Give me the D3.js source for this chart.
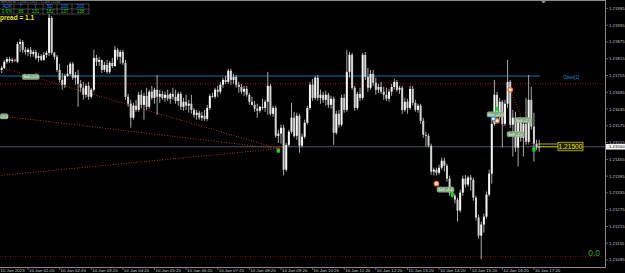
<!DOCTYPE html>
<html>
<head>
<meta charset="utf-8">
<script src="https://cdn.jsdelivr.net/npm/d3@7/dist/d3.min.js"></script>
<style>
html, body { margin: 0; padding: 0; background: #000; }
svg { display: block; }
text { font-family: "Liberation Sans", Arial, sans-serif; }
</style>
</head>
<body>
<svg id="chart" width="625" height="273"></svg>
<script>
// GBPUSD M5, 10 Jan 2023, first bar at 00:30
var firstBar = '00:30';
var ohlc = [
	[1.21775,1.21789,1.21764,1.21782],[1.21782,1.21811,1.21779,1.21804],[1.21804,1.21822,1.21797,1.21814],[1.21814,1.21822,1.21800,1.21807],
	[1.21807,1.21818,1.21800,1.21811],[1.21811,1.21814,1.21804,1.21807],[1.21804,1.21875,1.21800,1.21868],[1.21868,1.21886,1.21839,1.21875],
	[1.21875,1.21882,1.21836,1.21847],[1.21847,1.21857,1.21829,1.21839],[1.21839,1.21854,1.21825,1.21847],[1.21847,1.21857,1.21822,1.21832],
	[1.21832,1.21847,1.21822,1.21839],[1.21839,1.21847,1.21811,1.21818],[1.21818,1.21836,1.21804,1.21825],[1.21825,1.21832,1.21807,1.21811],
	[1.21811,1.21839,1.21807,1.21829],[1.21829,1.21843,1.21818,1.21836],[1.21836,1.21979,1.21825,1.21961],[1.21961,1.21968,1.21829,1.21836],
	[1.21836,1.21839,1.21811,1.21822],[1.21822,1.21829,1.21768,1.21775],[1.21775,1.21797,1.21729,1.21739],[1.21739,1.21764,1.21704,1.21722],
	[1.21722,1.21761,1.21711,1.21754],[1.21754,1.21793,1.21750,1.21761],[1.21761,1.21804,1.21754,1.21797],[1.21797,1.21804,1.21739,1.21747],
	[1.21747,1.21768,1.21722,1.21757],[1.21757,1.21775,1.21643,1.21725],[1.21725,1.21739,1.21697,1.21711],[1.21711,1.21732,1.21668,1.21686],
	[1.21686,1.21725,1.21675,1.21718],[1.21718,1.21732,1.21668,1.21679],[1.21679,1.21711,1.21672,1.21704],[1.21704,1.21847,1.21697,1.21818],
	[1.21818,1.21829,1.21789,1.21804],[1.21804,1.21822,1.21789,1.21811],[1.21811,1.21811,1.21764,1.21775],[1.21775,1.21804,1.21768,1.21793],
	[1.21793,1.21811,1.21761,1.21768],[1.21768,1.21807,1.21761,1.21800],[1.21800,1.21818,1.21782,1.21789],[1.21789,1.21861,1.21786,1.21847],
	[1.21847,1.21854,1.21811,1.21822],[1.21822,1.21847,1.21797,1.21839],[1.21839,1.21847,1.21793,1.21800],[1.21800,1.21811,1.21668,1.21679],
	[1.21679,1.21689,1.21643,1.21654],[1.21654,1.21668,1.21568,1.21604],[1.21604,1.21657,1.21597,1.21647],[1.21647,1.21668,1.21625,1.21632],
	[1.21632,1.21697,1.21625,1.21686],[1.21686,1.21704,1.21639,1.21650],[1.21650,1.21693,1.21597,1.21682],[1.21682,1.21711,1.21632,1.21643],
	[1.21643,1.21704,1.21636,1.21697],[1.21697,1.21718,1.21668,1.21675],[1.21675,1.21711,1.21654,1.21704],[1.21704,1.21757,1.21614,1.21679],
	[1.21679,1.21704,1.21657,1.21689],[1.21689,1.21700,1.21668,1.21675],[1.21675,1.21697,1.21661,1.21686],[1.21686,1.21704,1.21664,1.21672],
	[1.21672,1.21693,1.21654,1.21689],[1.21689,1.21711,1.21668,1.21679],[1.21679,1.21704,1.21654,1.21664],[1.21664,1.21697,1.21647,1.21689],
	[1.21689,1.21697,1.21632,1.21643],[1.21643,1.21675,1.21629,1.21661],[1.21661,1.21686,1.21632,1.21647],[1.21647,1.21668,1.21622,1.21654],
	[1.21654,1.21686,1.21618,1.21632],[1.21632,1.21639,1.21604,1.21614],[1.21614,1.21632,1.21597,1.21622],[1.21622,1.21629,1.21597,1.21604],
	[1.21604,1.21625,1.21593,1.21611],[1.21611,1.21632,1.21593,1.21600],[1.21600,1.21650,1.21593,1.21639],[1.21639,1.21689,1.21632,1.21682],
	[1.21682,1.21693,1.21675,1.21679],[1.21679,1.21711,1.21672,1.21704],[1.21704,1.21718,1.21679,1.21697],[1.21697,1.21732,1.21689,1.21722],
	[1.21722,1.21747,1.21711,1.21739],[1.21739,1.21754,1.21725,1.21732],[1.21732,1.21779,1.21725,1.21772],[1.21772,1.21779,1.21722,1.21739],
	[1.21739,1.21761,1.21725,1.21750],[1.21750,1.21757,1.21711,1.21722],[1.21722,1.21732,1.21693,1.21714],[1.21714,1.21725,1.21689,1.21697],
	[1.21697,1.21718,1.21682,1.21707],[1.21707,1.21718,1.21679,1.21686],[1.21686,1.21693,1.21650,1.21661],[1.21661,1.21679,1.21647,1.21650],
	[1.21650,1.21664,1.21625,1.21636],[1.21636,1.21654,1.21604,1.21629],[1.21629,1.21647,1.21622,1.21643],[1.21643,1.21672,1.21632,1.21639],
	[1.21639,1.21668,1.21625,1.21661],[1.21661,1.21768,1.21614,1.21718],[1.21718,1.21725,1.21611,1.21618],[1.21618,1.21647,1.21607,1.21639],
	[1.21639,1.21647,1.21532,1.21539],[1.21539,1.21561,1.21514,1.21547],[1.21547,1.21579,1.21511,1.21568],[1.21568,1.21579,1.21397,1.21418],
	[1.21418,1.21514,1.21411,1.21507],[1.21507,1.21561,1.21500,1.21554],[1.21554,1.21657,1.21547,1.21604],[1.21604,1.21625,1.21532,1.21539],
	[1.21539,1.21622,1.21525,1.21611],[1.21611,1.21618,1.21479,1.21504],[1.21504,1.21547,1.21497,1.21536],[1.21536,1.21597,1.21529,1.21586],
	[1.21586,1.21647,1.21579,1.21639],[1.21639,1.21732,1.21632,1.21722],[1.21722,1.21743,1.21664,1.21675],[1.21675,1.21754,1.21668,1.21747],
	[1.21747,1.21757,1.21664,1.21675],[1.21675,1.21704,1.21654,1.21686],[1.21686,1.21697,1.21657,1.21668],[1.21668,1.21700,1.21647,1.21686],
	[1.21686,1.21693,1.21639,1.21650],[1.21650,1.21682,1.21636,1.21672],[1.21672,1.21679,1.21507,1.21550],[1.21550,1.21629,1.21543,1.21618],
	[1.21618,1.21632,1.21568,1.21579],[1.21579,1.21686,1.21572,1.21675],[1.21675,1.21689,1.21622,1.21632],[1.21632,1.21847,1.21625,1.21768],
	[1.21768,1.21839,1.21747,1.21829],[1.21829,1.21836,1.21704,1.21711],[1.21711,1.21718,1.21629,1.21639],[1.21639,1.21697,1.21632,1.21689],
	[1.21689,1.21711,1.21664,1.21675],[1.21675,1.21836,1.21668,1.21829],[1.21829,1.21839,1.21739,1.21750],[1.21750,1.21782,1.21697,1.21711],
	[1.21711,1.21775,1.21704,1.21761],[1.21761,1.21775,1.21718,1.21729],[1.21729,1.21747,1.21686,1.21704],[1.21704,1.21725,1.21693,1.21714],
	[1.21714,1.21732,1.21689,1.21697],[1.21697,1.21714,1.21668,1.21686],[1.21686,1.21711,1.21664,1.21672],[1.21672,1.21707,1.21661,1.21697],
	[1.21697,1.21725,1.21682,1.21714],[1.21714,1.21743,1.21704,1.21732],[1.21732,1.21739,1.21697,1.21704],[1.21704,1.21718,1.21689,1.21711],
	[1.21711,1.21718,1.21618,1.21632],[1.21632,1.21675,1.21625,1.21661],[1.21661,1.21672,1.21618,1.21639],[1.21639,1.21718,1.21632,1.21707],
	[1.21707,1.21718,1.21647,1.21657],[1.21657,1.21668,1.21625,1.21632],[1.21632,1.21654,1.21622,1.21647],[1.21647,1.21654,1.21582,1.21593],
	[1.21593,1.21604,1.21532,1.21543],[1.21543,1.21554,1.21500,1.21539],[1.21539,1.21547,1.21497,1.21504],[1.21504,1.21511,1.21400,1.21411],
	[1.21411,1.21425,1.21397,1.21418],[1.21418,1.21425,1.21397,1.21407],[1.21407,1.21436,1.21400,1.21425],[1.21425,1.21461,1.21418,1.21450],
	[1.21450,1.21461,1.21411,1.21432],[1.21432,1.21439,1.21375,1.21386],[1.21386,1.21397,1.21325,1.21336],[1.21336,1.21347,1.21318,1.21325],
	[1.21325,1.21332,1.21297,1.21311],[1.21311,1.21318,1.21232,1.21272],[1.21272,1.21347,1.21265,1.21336],[1.21336,1.21397,1.21325,1.21386],
	[1.21386,1.21400,1.21354,1.21365],[1.21365,1.21397,1.21357,1.21390],[1.21390,1.21400,1.21343,1.21382],[1.21382,1.21390,1.21307,1.21318],
	[1.21318,1.21325,1.21236,1.21247],[1.21247,1.21257,1.21172,1.21182],[1.21182,1.21232,1.21097,1.21222],[1.21222,1.21261,1.21193,1.21250],
	[1.21250,1.21340,1.21243,1.21329],[1.21329,1.21418,1.21322,1.21404],[1.21404,1.21597,1.21368,1.21582],[1.21582,1.21739,1.21575,1.21686],
	[1.21686,1.21697,1.21604,1.21618],[1.21618,1.21675,1.21597,1.21661],[1.21661,1.21668,1.21497,1.21582],[1.21582,1.21668,1.21575,1.21654],
	[1.21654,1.21811,1.21639,1.21732],[1.21732,1.21739,1.21568,1.21579],[1.21579,1.21632,1.21465,1.21604],[1.21604,1.21625,1.21482,1.21497],
	[1.21497,1.21604,1.21429,1.21590],[1.21590,1.21604,1.21518,1.21532],[1.21532,1.21597,1.21465,1.21582],[1.21582,1.21675,1.21507,1.21518],
	[1.21518,1.21757,1.21511,1.21668],[1.21668,1.21714,1.21561,1.21572],[1.21572,1.21622,1.21447,1.21511],[1.21511,1.21525,1.21489,1.21497],
	[1.21497,1.21525,1.21482,1.21500]
];

var priceTicks = ['1.21995','1.21935','1.21875','1.21815','1.21755','1.21695','1.21635','1.21575',
	'1.21515','1.21455','1.21395','1.21335','1.21275','1.21215','1.21155','1.21095'];
var timeTicks = ['01:20','02:20','03:20','04:20','05:20','06:20','07:20','08:20','09:20',
	'10:20','11:20','12:20','13:20','14:20','15:20','16:20','17:20'];
var dayLabel = '10 Jan 2023';

var bidPrice = 1.21500;
var askPrice = 1.21510;
var openPrev = 1.21753;      // Open[1] level
var redLevel = 1.21725;
var lowLevel = 1.21107;

// closed trades: [openTime, openPrice, closeTime, closePrice]
var pastTrades = [
	['00:25', 1.21786, '09:15', 1.21493],
	['00:25', 1.21611, '09:15', 1.21493],
	['00:25', 1.21397, '09:15', 1.21493]
];
var recentTrades = [
	['16:35', 1.21704, '17:20', 1.21493],
	['16:10', 1.21593, '17:20', 1.21493],
	['14:15', 1.21368, '14:45', 1.21329]
];
var openMarks = [['16:35', 1.21704], ['16:10', 1.21593], ['14:15', 1.21368]];
var buyMarks = [['16:05', 1.21600]];
var closeMarks = [['09:15', 1.21486], ['16:10', 1.21636], ['17:20', 1.21490], ['14:45', 1.21329]];
var redMarks = [['00:55', 1.21811], ['01:35', 1.21761]];

// trade labels: [text, time, price, width]
var tradeLabels = [
	['Sell +5.5', '01:09', 1.21750, 17],
	['+5.5', '00:27', 1.21609, 8],
	['Buy +4.6', '15:51', 1.21616, 17],
	['Sell +2.1', '16:44', 1.21595, 17],
	['Sell +1.0', '16:29', 1.21545, 17],
	['Sell +4.0', '14:16', 1.21347, 17]
];

var tableHead = ['ADR', 'T', 'Y', '5D', '100', '200'];
var tableVals = ['0.6%', '88', '131', '182', '137', '138'];
var spreadText = 'pread = 1.1';
var zeroText = '0.0';

var WIDTH = 625, HEIGHT = 273,
	PLOT_R = 605, PLOT_B = 267;

function t(hm) {
	var p = hm.split(':');
	return new Date(Date.UTC(2023, 0, 10, +p[0], +p[1]));
}
var t0 = t(firstBar);
function barTime(i) { return new Date(t0.getTime() + i * 300000); }

var x = d3.scaleUtc()
	.domain([t0, barTime(204)])
	.range([1.65, 539.2]);
var y = d3.scaleLinear()
	.domain([1.21071, 1.22025])
	.range([266.7, 0]);

var svg = d3.select('#chart');

svg.append('rect').attr('width', WIDTH).attr('height', HEIGHT).attr('fill', '#000');

svg.append('defs').append('clipPath').attr('id', 'plotClip')
	.append('rect').attr('x', 0).attr('y', 0).attr('width', PLOT_R).attr('height', PLOT_B);

var plot = svg.append('g').attr('clip-path', 'url(#plotClip)');

// horizontal levels
plot.append('line')
	.attr('x1', 0).attr('x2', x(barTime(204)) + 1)
	.attr('y1', y(openPrev)).attr('y2', y(openPrev))
	.attr('stroke', '#1b6f9c').attr('stroke-width', 1);
plot.append('line')
	.attr('x1', 0).attr('x2', PLOT_R)
	.attr('y1', y(redLevel)).attr('y2', y(redLevel))
	.attr('stroke', '#9a1414').attr('stroke-width', 1).attr('stroke-dasharray', '1,1.5');
plot.append('line')
	.attr('x1', 0).attr('x2', PLOT_R)
	.attr('y1', y(lowLevel)).attr('y2', y(lowLevel))
	.attr('stroke', '#6e1010').attr('stroke-width', 1).attr('stroke-dasharray', '1,1.5');
plot.append('line')
	.attr('x1', 0).attr('x2', PLOT_R)
	.attr('y1', y(bidPrice)).attr('y2', y(bidPrice))
	.attr('stroke', '#4a5662').attr('stroke-width', 1);

// trade lines
plot.selectAll('line.trade')
	.data(pastTrades.concat(recentTrades))
	.enter().append('line')
	.attr('class', 'trade')
	.attr('x1', function (d) { return x(t(d[0])); })
	.attr('y1', function (d) { return y(d[1]); })
	.attr('x2', function (d) { return x(t(d[2])); })
	.attr('y2', function (d) { return y(d[3]); })
	.attr('stroke', '#9a3a1a').attr('stroke-width', 1).attr('stroke-dasharray', '1,1.6');

// candles
var candles = plot.selectAll('g.candle')
	.data(ohlc)
	.enter().append('g')
	.attr('class', 'candle')
	.attr('transform', function (d, i) { return 'translate(' + x(barTime(i)) + ',0)'; });
candles.append('line')
	.attr('x1', 0).attr('x2', 0)
	.attr('y1', function (d) { return y(d[1]); })
	.attr('y2', function (d) { return y(d[2]); })
	.attr('stroke', '#bcbcbc').attr('stroke-width', 0.9);
candles.append('rect')
	.attr('x', -1).attr('width', 2)
	.attr('y', function (d) { return y(Math.max(d[0], d[3])); })
	.attr('height', function (d) { return Math.max(0.8, Math.abs(y(d[0]) - y(d[3]))); })
	.attr('fill', function (d) { return d[3] >= d[0] ? '#f6f6f6' : '#d2d2d2'; });

// red doji marks
plot.selectAll('rect.red')
	.data(redMarks).enter().append('rect')
	.attr('x', function (d) { return x(t(d[0])) - 1; })
	.attr('y', function (d) { return y(d[1]) - 0.5; })
	.attr('width', 2).attr('height', 1.2)
	.attr('fill', '#d01818');

// trade labels
var lbl = plot.selectAll('g.tlabel')
	.data(tradeLabels).enter().append('g')
	.attr('class', 'tlabel')
	.attr('transform', function (d) { return 'translate(' + Math.max(0, x(t(d[1]))) + ',' + y(d[2]) + ')'; });
lbl.append('rect')
	.attr('x', 0)
	.attr('y', -2.6).attr('width', function (d) { return d[3]; }).attr('height', 5.2).attr('rx', 1.5)
	.attr('fill', '#7fa87f').attr('stroke', '#a8c8a8').attr('stroke-width', 0.4);
lbl.append('text')
	.attr('x', function (d) { return d[3] / 2; })
	.attr('y', 1.4)
	.attr('text-anchor', 'middle')
	.attr('font-size', 3.8)
	.attr('fill', '#eef5ee')
	.text(function (d) { return d[0]; });

// markers
plot.selectAll('circle.open')
	.data(openMarks).enter().append('circle')
	.attr('cx', function (d) { return x(t(d[0])); })
	.attr('cy', function (d) { return y(d[1]); })
	.attr('r', 2.2).attr('fill', '#fff').attr('stroke', '#ff6a2a').attr('stroke-width', 1.3);
plot.selectAll('circle.buy')
	.data(buyMarks).enter().append('circle')
	.attr('cx', function (d) { return x(t(d[0])) - 1; })
	.attr('cy', function (d) { return y(d[1]); })
	.attr('r', 2).attr('fill', '#fff').attr('stroke', '#3a8ee6').attr('stroke-width', 1.2);
plot.selectAll('rect.close')
	.data(closeMarks).enter().append('rect')
	.attr('x', function (d) { return x(t(d[0])) - 1.6; })
	.attr('y', function (d) { return y(d[1]) - 2; })
	.attr('width', 3.2).attr('height', 4)
	.attr('fill', '#11dd22');
plot.append('rect')
	.attr('x', x(t('09:15')) - 1.6).attr('y', y(1.21486) - 3.2)
	.attr('width', 3.2).attr('height', 1.3).attr('fill', '#e02020');

// bid / ask marks and price box
plot.selectAll('line.ba')
	.data([askPrice, bidPrice]).enter().append('line')
	.attr('x1', x(barTime(204)) - 1).attr('x2', 558)
	.attr('y1', function (d) { return y(d); })
	.attr('y2', function (d) { return y(d); })
	.attr('stroke', '#c8c400').attr('stroke-width', 0.9);
plot.append('rect')
	.attr('x', 558).attr('y', y(bidPrice) - 4.5)
	.attr('width', 25).attr('height', 8.5)
	.attr('fill', '#1e1e00').attr('stroke', '#c8c400').attr('stroke-width', 0.8);
plot.append('text')
	.attr('x', 570.5).attr('y', y(bidPrice) + 2.4)
	.attr('text-anchor', 'middle').attr('font-size', 6.6)
	.attr('fill', '#e8e400')
	.text(d3.format('.5f')(bidPrice));

plot.append('text')
	.attr('x', 563).attr('y', y(openPrev) + 3.2)
	.attr('font-size', 4.6).attr('fill', '#2a8ed0')
	.text('Open[1]');

plot.append('text')
	.attr('x', 600).attr('y', y(lowLevel) - 1)
	.attr('text-anchor', 'end').attr('font-size', 8.5)
	.attr('fill', '#1fa82a')
	.text(zeroText);

// info table
var colX = [0, 14, 28, 43, 57, 72, 89];
var table = svg.append('g');
table.append('rect').attr('x', -1).attr('y', 0).attr('width', 90).attr('height', 14)
	.attr('fill', '#000');
table.append('text').attr('x', 1).attr('y', 3).attr('font-size', 2.6).attr('fill', '#9a9a9a')
	.text('GBPUSD,M5  .1.21505  1.21510 ... 1.21495  1.21500');
table.selectAll('line.row').data([4, 9, 14]).enter().append('line')
	.attr('x1', 0).attr('x2', 89).attr('y1', function (d) { return d; }).attr('y2', function (d) { return d; })
	.attr('stroke', '#707070').attr('stroke-width', 0.6);
table.selectAll('line.col').data(colX.slice(1)).enter().append('line')
	.attr('x1', function (d) { return d; }).attr('x2', function (d) { return d; })
	.attr('y1', 4).attr('y2', 14)
	.attr('stroke', '#707070').attr('stroke-width', 0.6);
table.selectAll('text.head').data(tableHead).enter().append('text')
	.attr('x', function (d, i) { return (colX[i] + colX[i + 1]) / 2; })
	.attr('y', 8.3).attr('text-anchor', 'middle').attr('font-size', 4.6)
	.attr('fill', '#2f7fe8').text(function (d) { return d; });
table.selectAll('text.val').data(tableVals).enter().append('text')
	.attr('x', function (d, i) { return (colX[i] + colX[i + 1]) / 2; })
	.attr('y', 13.2).attr('text-anchor', 'middle').attr('font-size', 4.6)
	.attr('fill', '#22c830').text(function (d) { return d; });
svg.append('text').attr('x', 0).attr('y', 20).attr('font-size', 6.5)
	.attr('font-weight', 'bold').attr('fill', '#e8e020').text(spreadText);

// frame
svg.append('line').attr('x1', 0).attr('x2', PLOT_R).attr('y1', 0.5).attr('y2', 0.5)
	.attr('stroke', '#8a8a8a').attr('stroke-width', 1);
svg.append('line').attr('x1', PLOT_R + 0.5).attr('x2', PLOT_R + 0.5).attr('y1', 0).attr('y2', PLOT_B + 0.5)
	.attr('stroke', '#8a8a8a').attr('stroke-width', 1);
svg.append('line').attr('x1', 0).attr('x2', PLOT_R + 0.5).attr('y1', PLOT_B + 0.5).attr('y2', PLOT_B + 0.5)
	.attr('stroke', '#8a8a8a').attr('stroke-width', 1);

// small shift marker at top
svg.append('path').attr('d', 'M541,1 L546,1 L543.5,3.5 Z').attr('fill', '#8a8a8a');

// price axis
var yAxis = svg.append('g').attr('transform', 'translate(' + (PLOT_R + 1) + ',0)');
yAxis.selectAll('line').data(priceTicks).enter().append('line')
	.attr('x1', 0).attr('x2', 2)
	.attr('y1', function (d) { return y(+d); }).attr('y2', function (d) { return y(+d); })
	.attr('stroke', '#9a9a9a').attr('stroke-width', 0.6);
yAxis.selectAll('text').data(priceTicks).enter().append('text')
	.attr('x', 3).attr('y', function (d) { return y(+d) + 1.5; })
	.attr('font-size', 4.3).attr('fill', '#c8c8c8')
	.text(function (d) { return d; });
yAxis.append('rect').attr('x', 0).attr('y', y(bidPrice) - 2.8).attr('width', 19).attr('height', 5.6)
	.attr('fill', '#f4f4f4');
yAxis.append('text').attr('x', 3).attr('y', y(bidPrice) + 1.5)
	.attr('font-size', 4.3).attr('fill', '#000').text(d3.format('.5f')(bidPrice));

// time axis
var xAxis = svg.append('g').attr('transform', 'translate(0,' + (PLOT_B + 1) + ')');
xAxis.selectAll('line').data(timeTicks).enter().append('line')
	.attr('x1', function (d) { return x(t(d)); }).attr('x2', function (d) { return x(t(d)); })
	.attr('y1', 0).attr('y2', 2)
	.attr('stroke', '#9a9a9a').attr('stroke-width', 0.6);
xAxis.selectAll('text.tl').data(timeTicks).enter().append('text')
	.attr('class', 'tl')
	.attr('x', function (d) { return x(t(d)) + 1; })
	.attr('y', 4.4).attr('font-size', 4.4).attr('fill', '#c8c8c8')
	.text(function (d) { return d3.utcFormat('%-d %b ')(t(d)) + d; });
xAxis.append('text').attr('x', 0.5).attr('y', 4.4)
	.attr('font-size', 4.4).attr('fill', '#c8c8c8').text(dayLabel);
</script>
</body>
</html>
